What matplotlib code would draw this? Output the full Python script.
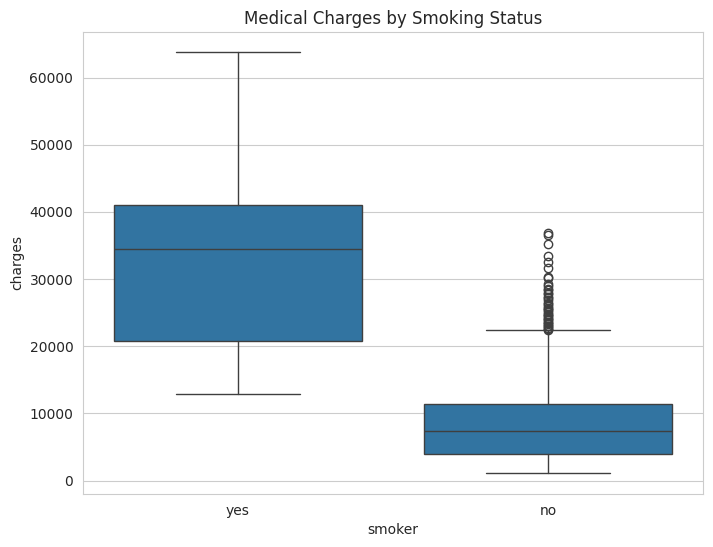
import matplotlib
matplotlib.use("Agg")
import matplotlib.pyplot as plt
import seaborn as sns

sns.set_style("whitegrid")

groups = ["yes", "no"]
whislo = [12829, 1121]
q1 = [20826, 3986]
med = [34456, 7345]
q3 = [41019, 11363]
whishi = [63770, 22395]
fliers_yes = []
fliers_no = [36910, 36580, 35160, 33470, 32550, 31620, 30260, 30170, 29330, 28950,
             28470, 28340, 27940, 27720, 27380, 27120, 26930, 26390, 26240, 26020,
             25680, 25520, 25330, 25080, 24870, 24670, 24510, 24180, 24060, 23890,
             23560, 23400, 23290, 23080, 22970, 22720, 22640, 22490]
fliers = [fliers_yes, fliers_no]

stats = []
for i, g in enumerate(groups):
    stats.append(dict(label=g, whislo=whislo[i], q1=q1[i], med=med[i],
                      q3=q3[i], whishi=whishi[i], fliers=fliers[i]))

fig = plt.figure(figsize=(7.13, 5.47), dpi=100)
ax = fig.add_axes([0.1164, 0.0969, 0.8696, 0.8446])

line_c = "#3f3f3f"
ax.bxp(stats, positions=[0, 1], widths=0.8, patch_artist=True,
       boxprops=dict(facecolor="#3274a1", edgecolor=line_c, linewidth=1.0),
       medianprops=dict(color=line_c, linewidth=1.0),
       whiskerprops=dict(color=line_c, linewidth=1.0),
       capprops=dict(color=line_c, linewidth=1.0),
       capwidths=0.4,
       flierprops=dict(marker="o", markerfacecolor="none", markeredgecolor=line_c,
                       markersize=6, linewidth=0))

ax.set_xlim(-0.5, 1.5)
ax.set_ylim(-2000, 66800)
ax.set_yticks([0, 10000, 20000, 30000, 40000, 50000, 60000])
ax.set_xticks([0, 1])
ax.set_xticklabels(groups)
ax.xaxis.grid(False)
ax.set_axisbelow(True)
ax.set_xlabel("smoker")
ax.set_ylabel("charges")
ax.set_title("Medical Charges by Smoking Status")

fig.savefig("out.png", dpi=100)
